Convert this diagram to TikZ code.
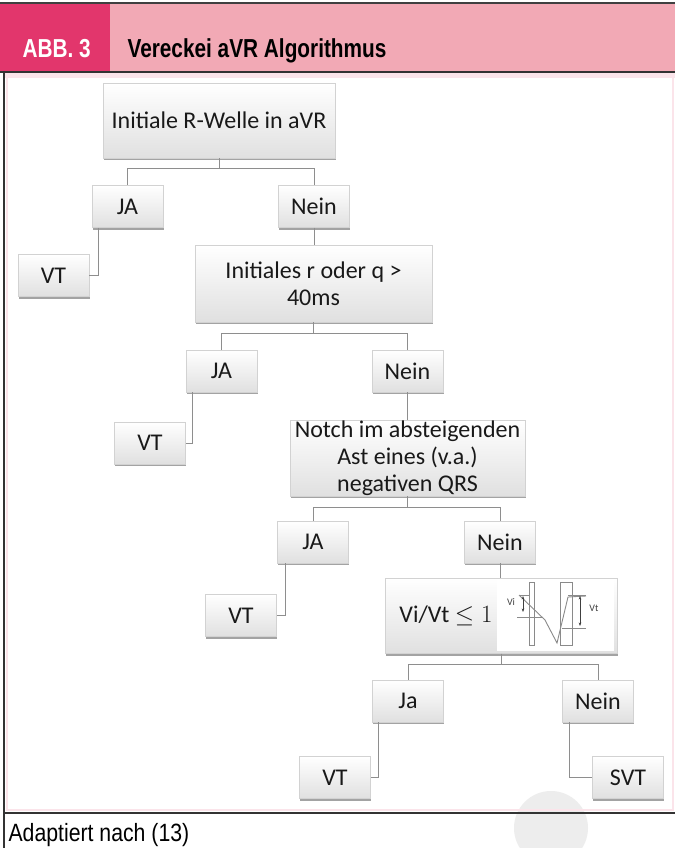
\documentclass[tikz,border=0pt]{standalone}
\usepackage{fontspec}
\setmainfont{Carlito}
\newfontfamily\headfont[FakeStretch=0.8]{Liberation Sans}
\newfontfamily\footfont[FakeStretch=0.85]{Liberation Sans}
\usetikzlibrary{shadows,arrows.meta}

\definecolor{abbmagenta}{HTML}{E2366C}
\definecolor{abbpink}{HTML}{F2A9B5}
\definecolor{framepink}{HTML}{FBE4EA}
\definecolor{linegray}{HTML}{8E8E8E}
\definecolor{boxedge}{HTML}{D2D2D2}
\definecolor{boxbottom}{HTML}{E0E0E0}
\definecolor{discgray}{HTML}{EDEDED}
\definecolor{ecggray}{HTML}{8A8A8A}

\begin{document}
\begin{tikzpicture}[x=1pt, y=-1pt,
    box/.style={draw=boxedge, line width=0.4pt, top color=white, bottom color=boxbottom,
      drop shadow={shadow xshift=0.8pt, shadow yshift=-2.2pt, fill=black!65, opacity=0.55},
      align=center, inner sep=0pt, text=black!90, font=\fontsize{24}{27}\selectfont},
    small/.style={box, minimum width=71pt, minimum height=42pt},
    conn/.style={draw=linegray, line width=1pt}]

  % page size and the grey disc behind the footer
  \useasboundingbox (0,0) rectangle (675,848);
  \fill[white] (0,0) rectangle (675,848);
  \fill[discgray] (551,828) circle[radius=37];

  % header band
  \fill[abbpink] (0,4) rectangle (675,72);
  \fill[abbmagenta] (0,4) rectangle (110,72);
  \draw[black!75, line width=1.5pt] (0,3) -- (675,3);
  \node[anchor=base west, text=white, font=\headfont\bfseries\fontsize{26}{30}\selectfont]
    (abb) at (19,58) {ABB. 3};
  \node[anchor=base west, text=black, font=\headfont\bfseries\fontsize{26}{30}\selectfont]
    (title) at (124,58) {Vereckei aVR Algorithmus};

  % frame of the figure
  \fill[framepink] (4,72) rectangle (675,78);
  \draw[framepink, line width=2pt] (7,76) rectangle (673,810);
  \draw[black!80, line width=1.2pt] (0,72) -- (675,72);
  \draw[black!80, line width=1.2pt] (4,72) -- (4,848);
  \draw[black!80, line width=1.2pt] (4,813) -- (675,813);
  \node[anchor=base west, font=\footfont\fontsize{25}{29}\selectfont]
    (source) at (5,841) {Adaptiert nach (13)};

  % question boxes
  \node[box, minimum width=232pt, minimum height=75pt] (rwave) at (219,120.5) {Initiale R-Welle in aVR};
  \node[box, minimum width=237pt, minimum height=77pt] (rq40) at (313.5,283.5) {Initiales r oder q >\\40ms};
  \node[box, minimum width=235pt, minimum height=76pt] (notch) at (407.5,458) {Notch im absteigenden\\Ast eines (v.a.)\\negativen QRS};
  \node[box, minimum width=232pt, minimum height=75pt] (vivt) at (501,616) {};

  % answer boxes
  \foreach \name/\x/\y/\txt in {ja1/127.5/206.5/JA, nein1/314/206.5/Nein, vt1/53.5/275.5/VT,
      ja2/221.5/371/JA, nein2/407.5/371/Nein, vt2/150/443/VT,
      ja3/313/542/JA, nein3/500/542/Nein, vt3/241/615.5/VT,
      ja4/408/701/Ja, nein4/598/701/Nein, vt4/335/777.5/VT, svt/628/777.5/SVT}
    \node[small] (\name) at (\x,\y) {\txt};

  % Vi/Vt criterion with its small ECG sketch
  \fill[white] (497,580) rectangle (614,651);
  \node[font=\fontsize{24}{27}\selectfont, text=black!90] (vivttext) at (446,616) {Vi/Vt $\leq 1$};
  \begin{scope}[color=ecggray, line width=0.6pt]
    \draw (529,582) rectangle (534,645);
    \draw (560,582) rectangle (572,645);
    \draw (517,617) -- (543,617);
    \draw (562,628) -- (586,628);
    \draw (519,595) -- (530,595);
    \draw (568,595) -- (586,595);
    \draw[line width=0.9pt] (519,595) -- (545,620) -- (557,643) -- (568,597) -- (586,596);
    \draw[black!75, {Stealth[length=3.5pt]}-{Stealth[length=3.5pt]}] (523,596) -- (523,612);
    \draw[black!75, {Stealth[length=3.5pt]}-{Stealth[length=3.5pt]}] (580,596) -- (580,626);
  \end{scope}
  \node[font=\fontsize{10}{11}\selectfont, text=black!75] (vilabel) at (511,602) {Vi};
  \node[font=\fontsize{10}{11}\selectfont, text=black!75] (vtlabel) at (594,608) {Vt};

  % connectors
  \draw[conn] (rwave.south) -- ++(0,10) -| (ja1.north);
  \draw[conn] (rwave.south) -- ++(0,10) -| (nein1.north);
  \draw[conn] ([xshift=7pt]ja1.south west) |- (vt1.east);
  \draw[conn] (nein1.south) -- (nein1.south |- rq40.north);

  \draw[conn] (rq40.south) -- ++(0,11) -| (ja2.north);
  \draw[conn] (rq40.south) -- ++(0,11) -| (nein2.north);
  \draw[conn] ([xshift=7pt]ja2.south west) |- (vt2.east);
  \draw[conn] (nein2.south) -- (nein2.south |- notch.north);

  \draw[conn] (notch.south) -- ++(0,11) -| (ja3.north);
  \draw[conn] (notch.south) -- ++(0,11) -| (nein3.north);
  \draw[conn] ([xshift=8pt]ja3.south west) |- (vt3.east);
  \draw[conn] (nein3.south) -- (nein3.south |- vivt.north);

  \draw[conn] (vivt.south) -- ++(0,11) -| (ja4.north);
  \draw[conn] (vivt.south) -- ++(0,11) -| (nein4.north);
  \draw[conn] ([xshift=6pt]ja4.south west) |- (vt4.east);
  \draw[conn] ([xshift=7pt]nein4.south west) |- (svt.west);
\end{tikzpicture}
\end{document}
